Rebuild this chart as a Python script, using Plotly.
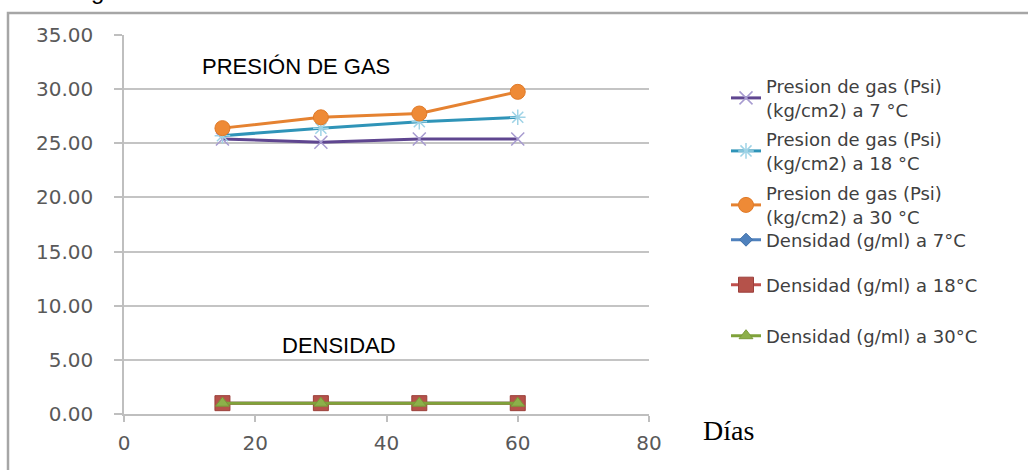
import plotly.graph_objects as go

# ---- data ----
dias = [15, 30, 45, 60]
presion_7 = [25.4, 25.1, 25.4, 25.4]
presion_18 = [25.7, 26.4, 27.0, 27.4]
presion_30 = [26.4, 27.4, 27.75, 29.75]
densidad_7 = [1.00, 1.00, 1.00, 1.00]
densidad_18 = [1.00, 1.00, 1.00, 1.00]
densidad_30 = [1.00, 1.00, 1.00, 1.00]

x_ticks = [0, 20, 40, 60, 80]
y_ticks = [0, 5, 10, 15, 20, 25, 30, 35]

nombres = [
    "Presion de gas (Psi)<br>(kg/cm2) a 7 °C",
    "Presion de gas (Psi)<br>(kg/cm2) a 18 °C",
    "Presion de gas (Psi)<br>(kg/cm2) a 30 °C",
    "Densidad (g/ml) a 7°C",
    "Densidad (g/ml) a 18°C",
    "Densidad (g/ml) a 30°C",
]

W, H = 1028, 470
L, R, T, B = 124, 379, 35, 56
pw, ph = W - L - R, H - T - B


def px2x(px):
    return (px - L) / pw


def px2y(py):
    return (H - B - py) / ph


fig = go.Figure()

series = [
    (densidad_7, nombres[3], "#4F81BD", dict(symbol="diamond", size=10, color="#4F81BD", line=dict(color="#3f6fa8", width=1)), "legend4"),
    (densidad_18, nombres[4], "#C0504D", dict(symbol="square", size=15, color="#b5524a", line=dict(color="#9c3f3a", width=1)), "legend5"),
    (densidad_30, nombres[5], "#7fa23a", dict(symbol="triangle-up", size=12, color="#8db04a", line=dict(color="#7a9a3a", width=1)), "legend6"),
    (presion_7, nombres[0], "#5f4690", dict(symbol="x-thin-open", size=13, color="#a79bd0", line=dict(color="#a79bd0", width=1.5)), "legend"),
    (presion_18, nombres[1], "#2f94b8", dict(symbol="asterisk-open", size=13, color="#9fd3e6", line=dict(color="#8fcbe0", width=1.5)), "legend2"),
    (presion_30, nombres[2], "#e58231", dict(symbol="circle", size=15, color="#ee8a36", line=dict(color="#e07a28", width=1)), "legend3"),
]

for vals, name, col, mk, lg in series:
    fig.add_trace(go.Scatter(
        x=dias, y=vals, name=name, mode="lines+markers",
        line=dict(color=col, width=3), marker=mk, legend=lg,
    ))

legend_font = dict(family="DejaVu Sans", size=18, color="#404040")
leg_y = [98, 151, 205, 240, 285, 336]
leg_names = ["legend", "legend2", "legend3", "legend4", "legend5", "legend6"]
legends = {}
for nm, py in zip(leg_names, leg_y):
    legends[nm] = dict(
        x=px2x(726), xanchor="left", y=px2y(py), yanchor="middle",
        bgcolor="rgba(0,0,0,0)", font=legend_font, borderwidth=0,
    )

fig.update_layout(
    width=W, height=H,
    margin=dict(l=L, r=R, t=T, b=B),
    paper_bgcolor="white", plot_bgcolor="white",
    showlegend=True,
    **legends,
    xaxis=dict(
        range=[0, 80], tickvals=x_ticks, ticktext=[str(v) for v in x_ticks],
        ticks="outside", ticklen=6, tickcolor="#bfbfbf", tickwidth=1.5,
        showline=True, linecolor="#bfbfbf", linewidth=1.5,
        showgrid=False, zeroline=False,
        tickfont=dict(family="DejaVu Sans", size=20, color="#595959"),
        ticklabelstandoff=4,
    ),
    yaxis=dict(
        range=[0, 35], tickvals=y_ticks, ticktext=[f"{v:.2f}" for v in y_ticks],
        ticks="outside", ticklen=8, tickcolor="#bfbfbf", tickwidth=1.5,
        showline=True, linecolor="#bfbfbf", linewidth=1.5,
        showgrid=True, gridcolor="#c4c4c4", gridwidth=1.5, zeroline=False,
        tickfont=dict(family="DejaVu Sans", size=20, color="#595959"),
        ticklabelstandoff=17,
    ),
    shapes=[dict(
        type="rect", xref="paper", yref="paper",
        x0=px2x(8), x1=px2x(1032), y0=px2y(474), y1=px2y(13),
        line=dict(color="#a6a6a6", width=2.5), fillcolor="rgba(0,0,0,0)", layer="below",
    )],
    annotations=[
        dict(text="PRESIÓN DE GAS", xref="paper", yref="paper", x=px2x(296), y=px2y(66),
             xanchor="center", yanchor="middle", showarrow=False,
             font=dict(family="Liberation Sans", size=22, color="black")),
        dict(text="DENSIDAD", xref="paper", yref="paper", x=px2x(339), y=px2y(345),
             xanchor="center", yanchor="middle", showarrow=False,
             font=dict(family="Liberation Sans", size=22, color="black")),
        dict(text="Días", xref="paper", yref="paper", x=px2x(728), y=px2y(430),
             xanchor="center", yanchor="middle", showarrow=False,
             font=dict(family="Liberation Serif, Times New Roman, serif", size=28, color="black")),
        dict(text="g", xref="paper", yref="paper", x=px2x(97), y=px2y(6),
             xanchor="center", yanchor="bottom", showarrow=False,
             font=dict(family="Liberation Sans", size=24, color="black")),
    ],
)

fig.write_html("out.html", config={"displayModeBar": False},
               post_script="document.body.style.margin='0px';")
